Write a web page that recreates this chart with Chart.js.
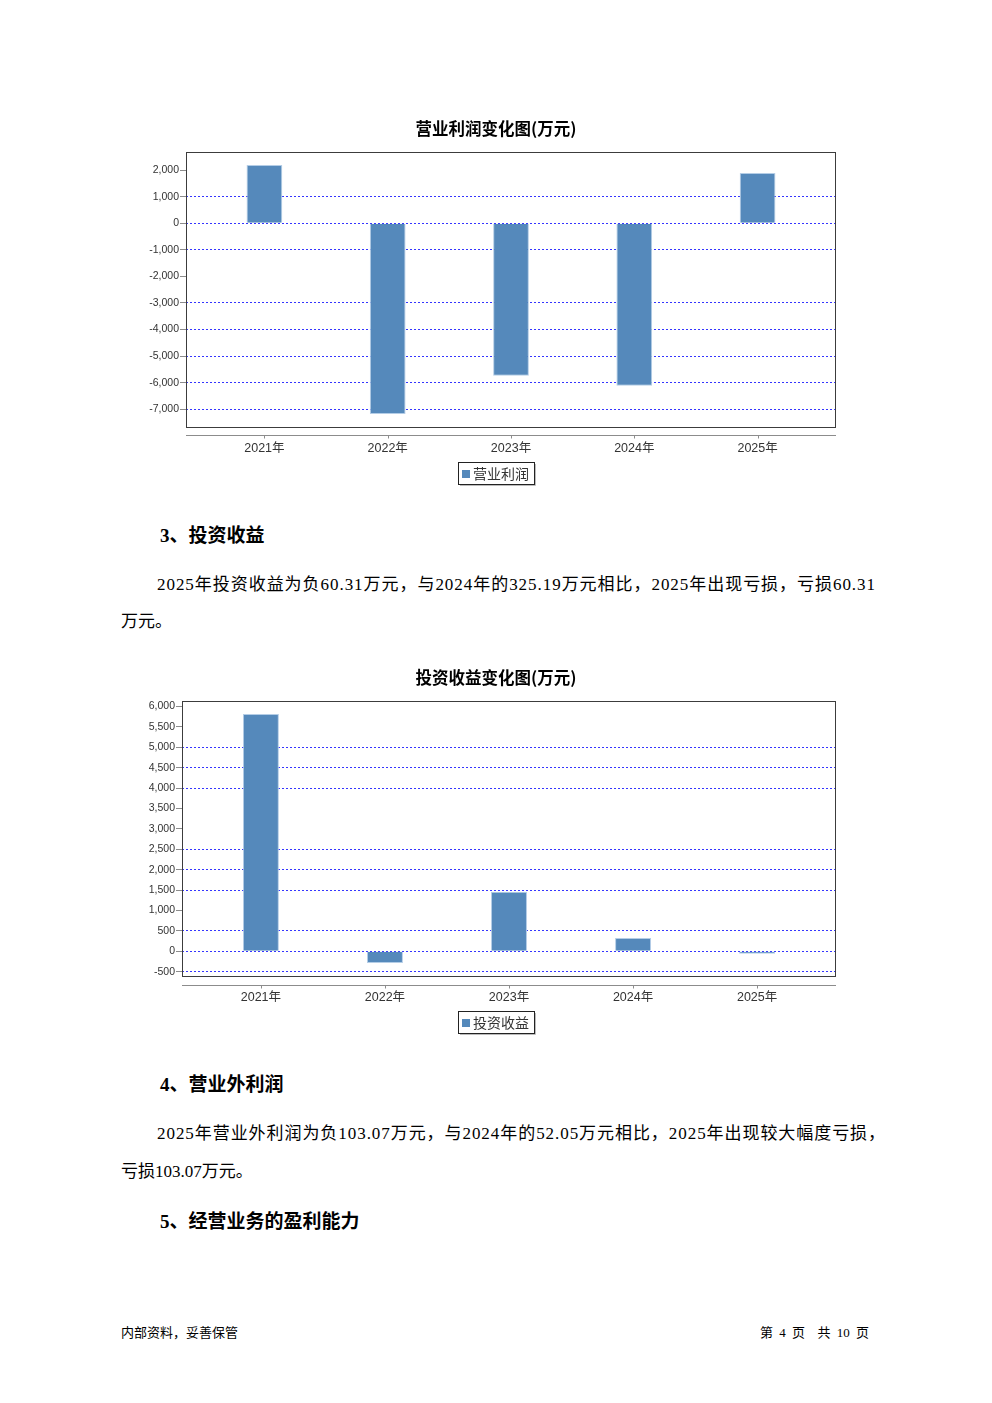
<!DOCTYPE html>
<html>
<head>
<meta charset="utf-8">
<script src="https://cdn.jsdelivr.net/npm/chart.js@4.4.1/dist/chart.umd.min.js"></script>
<style>
    html, body { margin: 0; padding: 0; background: #fff; }
    #page { position: relative; width: 992px; height: 1403px; overflow: hidden; }
    .t { position: absolute; white-space: nowrap; color: #000; }
    .h { font: bold 19px "Liberation Serif", "Noto Sans CJK SC"; line-height: 24px; }
    .p { font: 17px "Liberation Serif", "Noto Sans CJK SC"; line-height: 22px; }
    .f { font: 13px "Liberation Serif", "Noto Sans CJK SC"; line-height: 16px; }
    canvas { position: absolute; }
</style>
</head>
<body>
<div id="page">
    <canvas id="profitChart" width="710" height="390" style="left:140px;top:110px"></canvas>

    <div class="t h" style="left:160px;top:524px">3、投资收益</div>
    <div class="t p fit" data-w="719" style="left:157px;top:574px">2025年投资收益为负60.31万元，与2024年的325.19万元相比，2025年出现亏损，亏损60.31</div>
    <div class="t p" style="left:121px;top:611px">万元。</div>

    <canvas id="investChart" width="710" height="390" style="left:140px;top:660px"></canvas>

    <div class="t h" style="left:160px;top:1073px">4、营业外利润</div>
    <div class="t p fit" data-w="729" style="left:157px;top:1123px">2025年营业外利润为负103.07万元，与2024年的52.05万元相比，2025年出现较大幅度亏损，</div>
    <div class="t p" style="left:121px;top:1161px">亏损103.07万元。</div>
    <div class="t h" style="left:160px;top:1210px">5、经营业务的盈利能力</div>

    <div class="t f" style="left:121px;top:1325px">内部资料，妥善保管</div>
    <div class="t f" style="left:760px;top:1325px;word-spacing:3px">第 4 页 &nbsp;共 10 页</div>
</div>

<script>
// Data
const years = ['2021年', '2022年', '2023年', '2024年', '2025年'];

const profitValues = [2195, -7180, -5738, -6114, 1894];
const profitTicks = [2000, 1000, 0, -1000, -2000, -3000, -4000, -5000, -6000, -7000];
const profitNoGrid = [2000, -2000];

const investValues = [5816, -287, 1461, 325.19, -60.31];
const investTicks = [6000, 5500, 5000, 4500, 4000, 3500, 3000, 2500, 2000, 1500, 1000, 500, 0, -500];
const investNoGrid = [6000, 5500, 3500, 3000, 1000];

// justify the long text lines
document.querySelectorAll('.fit').forEach(el => {
    const n = el.textContent.length;
    const w = el.getBoundingClientRect().width;
    el.style.letterSpacing = ((+el.dataset.w - w) / n) + 'px';
});

// Frame, x axis line, title and legend box drawn around the plot
const framePlugin = {
    id: 'frame',
    afterDraw(chart, args, opts) {
        const { ctx, chartArea: a } = chart;
        const xs = chart.scales.x;
        ctx.save();

        // plot border
        ctx.strokeStyle = '#3c3c3c';
        ctx.lineWidth = 1;
        ctx.strokeRect(a.left + 0.5, a.top + 0.5, a.right - a.left - 1, a.bottom - a.top);

        // separate x axis line with small ticks
        const ay = Math.round(a.bottom + opts.gap) + 0.5;
        ctx.strokeStyle = '#8c8c8c';
        ctx.beginPath();
        ctx.moveTo(a.left, ay);
        ctx.lineTo(a.right, ay);
        xs.ticks.forEach(t => {
            const px = Math.round(xs.getPixelForValue(t.value)) + 0.5;
            ctx.moveTo(px, ay);
            ctx.lineTo(px, ay + 3);
        });
        ctx.stroke();

        // title
        ctx.fillStyle = '#000';
        ctx.font = 'bold 16.5px "Noto Sans CJK SC"';
        ctx.textAlign = 'center';
        ctx.textBaseline = 'middle';
        ctx.fillText(opts.title, chart.width / 2 + 1, opts.titleY);

        // legend box
        const ds = chart.data.datasets[0];
        ctx.font = '14px "Noto Sans CJK SC"';
        const tw = ctx.measureText(ds.label).width;
        const bw = 4 + 8 + 3 + tw + 5;
        const bx = Math.round(chart.width / 2 - bw / 2) + 1;
        const by = opts.legendY;
        ctx.strokeStyle = '#222';
        ctx.strokeRect(bx + 0.5, by + 0.5, bw, 22);
        ctx.strokeStyle = '#bbb';
        ctx.beginPath();
        ctx.moveTo(bx + 2, by + 23.5);
        ctx.lineTo(bx + bw + 1.5, by + 23.5);
        ctx.lineTo(bx + bw + 1.5, by + 2);
        ctx.stroke();
        ctx.fillStyle = ds.backgroundColor;
        ctx.fillRect(bx + 4, by + 8, 8, 8);
        ctx.fillStyle = '#333';
        ctx.textAlign = 'left';
        ctx.fillText(ds.label, bx + 15, by + 12);

        ctx.restore();
    }
};

function makeChart(canvasId, label, values, yTicks, noGrid, yMin, yMax, layout) {
    const ctx = document.getElementById(canvasId);
    return new Chart(ctx, {
        type: 'bar',
        data: {
            datasets: [{
                label: label,
                data: values.map((v, i) => ({ x: i, y: v })),
                backgroundColor: '#5589bb',
                borderColor: '#b4cde6',
                borderWidth: 1,
                barPercentage: 0.29,
                categoryPercentage: 1
            }]
        },
        options: {
            responsive: false,
            animation: false,
            layout: { padding: layout.padding },
            plugins: {
                legend: { display: false },
                tooltip: { enabled: false },
                frame: { title: layout.title, titleY: layout.titleY, legendY: layout.legendY, gap: layout.gap }
            },
            scales: {
                x: {
                    type: 'linear',
                    offset: false,
                    min: -0.636,
                    max: 4.636,
                    afterBuildTicks: s => { s.ticks = years.map((_, i) => ({ value: i })); },
                    afterFit: s => { s.height = 40; },
                    grid: { display: false, offset: false },
                    border: { display: false },
                    ticks: {
                        padding: 6,
                        color: '#333',
                        font: { family: '"Liberation Sans", "Noto Sans CJK SC"', size: 12.5 },
                        callback: v => years[v]
                    }
                },
                y: {
                    min: yMin,
                    max: yMax,
                    afterBuildTicks: s => { s.ticks = yTicks.map(v => ({ value: v })); },
                    afterFit: s => { s.width = layout.yWidth; },
                    grid: {
                        color: c => (c.tick && noGrid.includes(c.tick.value)) ? 'rgba(0,0,0,0)' : '#3535ff',
                        lineWidth: 1,
                        tickColor: '#8c8c8c',
                        tickLength: 6
                    },
                    border: { display: false, dash: [2, 2] },
                    ticks: {
                        padding: 1,
                        color: '#333',
                        font: { family: '"Liberation Sans"', size: 10.5 },
                        callback: v => v.toLocaleString('en-US')
                    }
                }
            }
        },
        plugins: [framePlugin]
    });
}

makeChart('profitChart', '营业利润', profitValues, profitTicks, profitNoGrid, -7670, 2685, {
    padding: { top: 42, right: 14, bottom: 33, left: 0 },
    yWidth: 46, title: '营业利润变化图(万元)', titleY: 19, legendY: 352, gap: 8
});

makeChart('investChart', '投资收益', investValues, investTicks, investNoGrid, -605, 6135, {
    padding: { top: 41, right: 14, bottom: 34, left: 0 },
    yWidth: 42, title: '投资收益变化图(万元)', titleY: 18, legendY: 351, gap: 9
});
</script>
</body>
</html>
